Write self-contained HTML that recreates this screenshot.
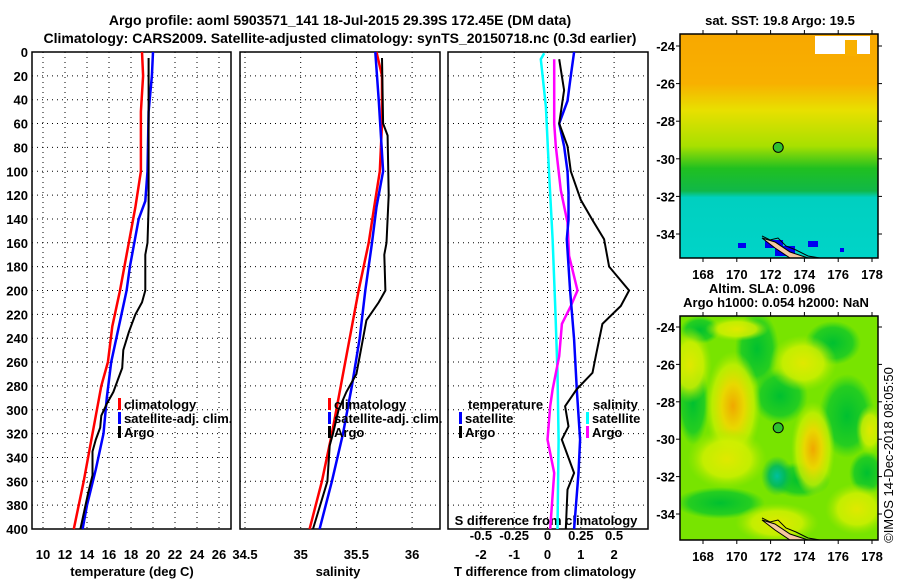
<!DOCTYPE html>
<html><head><meta charset="utf-8"><style>
html,body{margin:0;padding:0;background:#fff;}
svg text{font-family:"Liberation Sans",Arial,sans-serif;font-weight:bold;font-size:13px;fill:#000;}
</style></head><body>
<svg id="c" width="900" height="580" xmlns="http://www.w3.org/2000/svg">
<defs>
<linearGradient id="sst" x1="0" y1="0" x2="0" y2="1">
<stop offset="0" stop-color="#f8a800"/><stop offset="0.22" stop-color="#f8b000"/><stop offset="0.34" stop-color="#e8e000"/>
<stop offset="0.5" stop-color="#a8e000"/><stop offset="0.6" stop-color="#20c020"/><stop offset="0.7" stop-color="#10b848"/>
<stop offset="0.73" stop-color="#00d0c0"/><stop offset="1" stop-color="#00d4c8"/></linearGradient>
<radialGradient id="yb" cx="0.5" cy="0.5" r="0.5"><stop offset="0" stop-color="#f0a800"/><stop offset="0.4" stop-color="#e8d800"/><stop offset="0.75" stop-color="#c8f000" stop-opacity="0.8"/><stop offset="1" stop-color="#a0e800" stop-opacity="0"/></radialGradient>
<radialGradient id="yy" cx="0.5" cy="0.5" r="0.5"><stop offset="0" stop-color="#e0e800"/><stop offset="0.6" stop-color="#d0f000" stop-opacity="0.85"/><stop offset="1" stop-color="#a0e800" stop-opacity="0"/></radialGradient>
<radialGradient id="dg" cx="0.5" cy="0.5" r="0.5"><stop offset="0" stop-color="#00c030"/><stop offset="0.7" stop-color="#10c828" stop-opacity="0.8"/><stop offset="1" stop-color="#20d020" stop-opacity="0"/></radialGradient>
<radialGradient id="tl" cx="0.5" cy="0.5" r="0.5"><stop offset="0" stop-color="#00c0a0"/><stop offset="0.5" stop-color="#00b860" stop-opacity="0.9"/><stop offset="1" stop-color="#10c040" stop-opacity="0"/></radialGradient>
</defs>
<g id="titles">
<text x="340" y="25" text-anchor="middle" style="font-size:14px">Argo profile: aoml 5903571_141 18-Jul-2015 29.39S 172.45E (DM data)</text>
<text x="340" y="43" text-anchor="middle" style="font-size:14px">Climatology: CARS2009. Satellite-adjusted climatology: synTS_20150718.nc (0.3d earlier)</text>
</g>
<g id="p1"></g>
<g id="p2"></g>
<g id="p3"></g>
<g id="maps"></g>
<text transform="translate(893,455) rotate(-90)" text-anchor="middle" style="font-weight:normal;font-size:13px">©IMOS 14-Dec-2018 08:05:50</text>
</svg>
<script>
// ---- data ----
const tClimD=[0,20,50,100,130,160,180,200,230,260,280,300,330,360,400];
const tClimV=[19.0,19.1,18.9,18.9,18.4,17.8,17.4,17.0,16.3,15.9,15.3,14.9,14.3,13.7,12.8];
const tSatD=[0,20,50,100,125,140,160,180,200,230,260,290,320,350,380,400];
const tSatV=[20.0,19.9,19.6,19.5,19.3,18.7,18.3,17.9,17.6,16.9,16.2,15.8,15.5,14.8,14.0,13.6];
const tArgoD=[5,60,130,160,170,200,210,220,235,250,265,275,285,295,305,315,325,335,355,370,400];
const tArgoV=[19.6,19.6,19.6,19.5,19.3,19.3,19.0,18.4,17.8,17.3,17.2,16.8,16.4,15.8,15.3,15.2,14.8,14.5,14.5,14.1,13.4];
const sClimD=[0,20,60,100,130,160,200,240,280,320,360,400];
const sClimV=[35.68,35.73,35.73,35.71,35.66,35.61,35.52,35.44,35.36,35.28,35.19,35.08];
const sSatD=[0,40,100,130,160,200,240,280,320,360,400];
const sSatV=[35.67,35.70,35.74,35.68,35.64,35.58,35.53,35.46,35.38,35.28,35.17];
const sArgoD=[5,60,70,120,160,170,200,210,225,240,270,285,300,320,330,360,400];
const sArgoV=[35.73,35.74,35.78,35.79,35.77,35.75,35.76,35.70,35.59,35.56,35.50,35.41,35.34,35.29,35.26,35.24,35.11];
const dTSatD=[0,20,41,60,79,100,118,141,157,200,241,283,325,353,400];
const dTSatV=[0.8,0.7,0.6,0.35,0.5,0.6,0.63,0.63,0.58,0.68,0.8,0.88,0.98,0.93,0.8];
const dTArgoD=[6,32,60,79,100,124,141,157,180,200,213,228,255,269,283,297,314,325,353,367,400];
const dTArgoV=[0.35,0.5,0.35,0.6,0.7,1.0,1.35,1.7,1.85,2.45,2.2,1.65,1.45,1.35,0.87,0.53,0.63,0.43,0.8,0.6,0.55];
const dSSatD=[1,6,46,102,157,213,269,325,400];
const dSSatV=[-0.025,-0.05,-0.012,0.012,0.038,0.058,0.075,0.083,0.075];
const dSArgoD=[6,60,79,116,143,171,200,213,228,255,283,297,325,353,400];
const dSArgoV=[0.05,0.05,0.062,0.1,0.15,0.162,0.225,0.175,0.108,0.088,0.038,0.02,0,0.05,0.02];
const depthTicks=[0,20,40,60,80,100,120,140,160,180,200,220,240,260,280,300,320,340,360,380,400];
const tTicks=[10,12,14,16,18,20,22,24,26];
const sTicks=[34.5,35,35.5,36];
const sTickLbl=["34.5","35","35.5","36"];
const dTTicks=[-2,-1,0,1,2];
const dSTicks=[-0.5,-0.25,0,0.25,0.5];
const dSTickLbl=["-0.5","-0.25","0","0.25","0.5"];
const latTicks=[-24,-26,-28,-30,-32,-34];
const lonTicks=[168,170,172,174,176,178];

const NS="http://www.w3.org/2000/svg";
function mk(tag,attrs,parent){const e=document.createElementNS(NS,tag);for(const k in attrs)e.setAttribute(k,attrs[k]);parent.appendChild(e);return e;}
const Y0=52,Y1=529;
const yD=d=>Y0+(d/400)*(Y1-Y0);
const xT=v=>43+(v-10)*11;
const xS=v=>245+(v-34.5)*111.4;
const xDT=v=>547.5+v*33.3;
const xDS=v=>547.5+v*4*33.3;

function frame(g,x0,x1,name){
  const r=mk('rect',{x:x0,y:Y0,width:x1-x0,height:Y1-Y0,fill:'none',stroke:'#000','stroke-width':1.5},g);
  
  
  depthTicks.forEach(d=>{
    const l=mk('line',{x1:x0,x2:x1,y1:yD(d),y2:yD(d),stroke:'#000','stroke-dasharray':'1,4','stroke-width':1},g);
    
    
  });
}
function vgrid(g,xs,fx){xs.forEach(v=>{const l=mk('line',{x1:fx(v),x2:fx(v),y1:Y0,y2:Y1,stroke:'#000','stroke-dasharray':'1,4'},g);
  
  });}
function line(g,D,V,fx,col,w,name){
  const p=D.map((d,i)=>fx(V[i]).toFixed(1)+','+yD(d).toFixed(1)).join(' ');
  const e=mk('polyline',{points:p,fill:'none',stroke:col,'stroke-width':w},g);
  
  
}
function txt(g,x,y,s,anchor,name,extra){const t=mk('text',Object.assign({x:x,y:y,'text-anchor':anchor||'start'},extra||{}),g);t.textContent=s;
  
  return t;}
function leg(g,x,y,col,s){const r=mk('rect',{x:x,y:y-11,width:3,height:12,fill:col},g);
  
  
  txt(g,x+6,y,s,'start','legend-entry');}

// panel 1
const p1=document.getElementById('p1');
frame(p1,32,231,'temperature');
vgrid(p1,tTicks,xT);
depthTicks.forEach(d=>txt(p1,28,yD(d)+5,String(d),'end','depth-tick-label'));
tTicks.forEach(v=>txt(p1,xT(v),559,String(v),'middle','temp-tick-label'));
txt(p1,132,576,'temperature (deg C)','middle','x-axis-title');
line(p1,tClimD,tClimV,xT,'#f00',2.5,'temp-climatology-line');
line(p1,tSatD,tSatV,xT,'#00f',2.5,'temp-satellite-line');
line(p1,tArgoD,tArgoV,xT,'#000',2,'temp-argo-line');
leg(p1,118,409,'#f00','climatology');leg(p1,118,423,'#00f','satellite-adj. clim.');leg(p1,118,437,'#000','Argo');

// panel 2
const p2=document.getElementById('p2');
frame(p2,240,440,'salinity');
vgrid(p2,sTicks,xS);
sTicks.forEach((v,i)=>txt(p2,xS(v),559,sTickLbl[i],'middle','sal-tick-label'));
txt(p2,338,576,'salinity','middle','x-axis-title');
line(p2,sClimD,sClimV,xS,'#f00',2.5,'sal-climatology-line');
line(p2,sSatD,sSatV,xS,'#00f',2.5,'sal-satellite-line');
line(p2,sArgoD,sArgoV,xS,'#000',2,'sal-argo-line');
leg(p2,328,409,'#f00','climatology');leg(p2,328,423,'#00f','satellite-adj. clim.');leg(p2,328,437,'#000','Argo');

// panel 3
const p3=document.getElementById('p3');
frame(p3,448,648,'difference');
vgrid(p3,dTTicks,xDT);
dTTicks.forEach(v=>txt(p3,xDT(v),559,String(v),'middle','dT-tick-label'));
txt(p3,545,576,'T difference from climatology','middle','x-axis-title');
dSTicks.forEach((v,i)=>txt(p3,xDS(v),540,dSTickLbl[i],'middle','dS-tick-label'));
txt(p3,546,525,'S difference from climatology','middle','top-axis-title');
line(p3,dSSatD,dSSatV,xDS,'#0ff',2.5,'dS-satellite-line');
line(p3,dSArgoD,dSArgoV,xDS,'#f0f',2.5,'dS-argo-line');
line(p3,dTSatD,dTSatV,xDT,'#00f',2.5,'dT-satellite-line');
line(p3,dTArgoD,dTArgoV,xDT,'#000',2,'dT-argo-line');
txt(p3,468,409,'temperature','start','legend-title');
leg(p3,459,423,'#00f','satellite');leg(p3,459,437,'#000','Argo');
txt(p3,593,409,'salinity','start','legend-title');
leg(p3,586,423,'#0ff','satellite');leg(p3,586,437,'#f0f','Argo');

// maps
const mg=document.getElementById('maps');
function map(y0,y1,lat24,lat34,type){
  const g=mk('g',{},mg);
  
  
  const x0=680,x1=878;
  const yL=l=>lat24+(l+24)/(-10)*(lat34-lat24);
  const xL=l=>703+(l-168)*16.9;
  const clip=mk('clipPath',{id:'clip'+type},g);
  mk('rect',{x:x0,y:y0,width:x1-x0,height:y1-y0},clip);
  const inner=mk('g',{'clip-path':'url(#clip'+type+')'},g);
  if(type==='sst'){
    mk('rect',{x:x0,y:y0,width:x1-x0,height:y1-y0,fill:'url(#sst)'},inner);
    mk('rect',{x:815,y:36,width:55,height:18,fill:'#fff'},inner);
    mk('rect',{x:845,y:40,width:12,height:16,fill:'#f8b000'},inner);
    [[765,240,18,8],[775,246,20,10],[738,243,8,5],[808,241,10,6],[840,248,4,4]].forEach(b=>mk('rect',{x:b[0],y:b[1],width:b[2],height:b[3],fill:'#0000f0'},inner));
  } else {
    mk('rect',{x:x0,y:y0,width:x1-x0,height:y1-y0,fill:'#78e400'},inner);
    [[757,349,22,38],[780,396,28,28],[847,416,28,42],[693,403,16,42],[720,503,45,16],[833,343,28,22],[867,473,18,22],[700,330,20,14],[800,480,30,18]].forEach(b=>mk('ellipse',{cx:b[0],cy:b[1],rx:b[2],ry:b[3],fill:'url(#dg)'},inner));
    mk('ellipse',{cx:777,cy:476,rx:16,ry:20,fill:'url(#tl)'},inner);
    [[733,406,28,55,'yb'],[813,449,22,48,'yb'],[690,365,22,38,'yy'],[803,363,34,28,'yy'],[727,459,40,30,'yy'],[857,509,32,26,'yy'],[777,523,42,20,'yy'],[737,329,32,12,'yy'],[870,430,14,25,'yy']].forEach(b=>mk('ellipse',{cx:b[0],cy:b[1],rx:b[2],ry:b[3],fill:'url(#'+b[4]+')'},inner));
  }
  mk('polygon',{points:`762,${y1-20} 775,${y1-16} 790,${y1-6} 808,${y1} 790,${y1} 775,${y1-10}`,fill:'#f4c8a0',stroke:'#000','stroke-width':1},inner);
  mk('polyline',{points:`762,${y1-22} 770,${y1-18} 778,${y1-20} 786,${y1-12} 796,${y1-8} 808,${y1-2} 820,${y1}`,fill:'none',stroke:'#000','stroke-width':1},inner);
  mk('rect',{x:x0,y:y0,width:x1-x0,height:y1-y0,fill:'none',stroke:'#000','stroke-width':1.5},g);
  const c=mk('circle',{cx:xL(172.45),cy:yL(-29.39),r:5,fill:'#30c030',stroke:'#000','stroke-width':1},g);
  
  
  latTicks.forEach(l=>{txt(g,675,yL(l)+5,String(l),'end','lat-tick-label');
    mk('line',{x1:x0,x2:x0-4,y1:yL(l),y2:yL(l),stroke:'#000'},g);mk('line',{x1:x1,x2:x1+4,y1:yL(l),y2:yL(l),stroke:'#000'},g);});
  lonTicks.forEach(l=>{txt(g,xL(l),y1+21,String(l),'middle','lon-tick-label');
    mk('line',{x1:xL(l),x2:xL(l),y1:y1,y2:y1+4,stroke:'#000'},g);mk('line',{x1:xL(l),x2:xL(l),y1:y0,y2:y0-4,stroke:'#000'},g);});
}
map(34,258,46,234,'sst');
map(316,540,327,514,'sla');
txt(mg,780,25,'sat. SST: 19.8 Argo: 19.5','middle','sst-map-title');
txt(mg,762,293,'Altim. SLA: 0.096','middle','sla-map-title');
txt(mg,776,307,'Argo h1000: 0.054 h2000: NaN','middle','sla-map-subtitle');
</script>
</body></html>
